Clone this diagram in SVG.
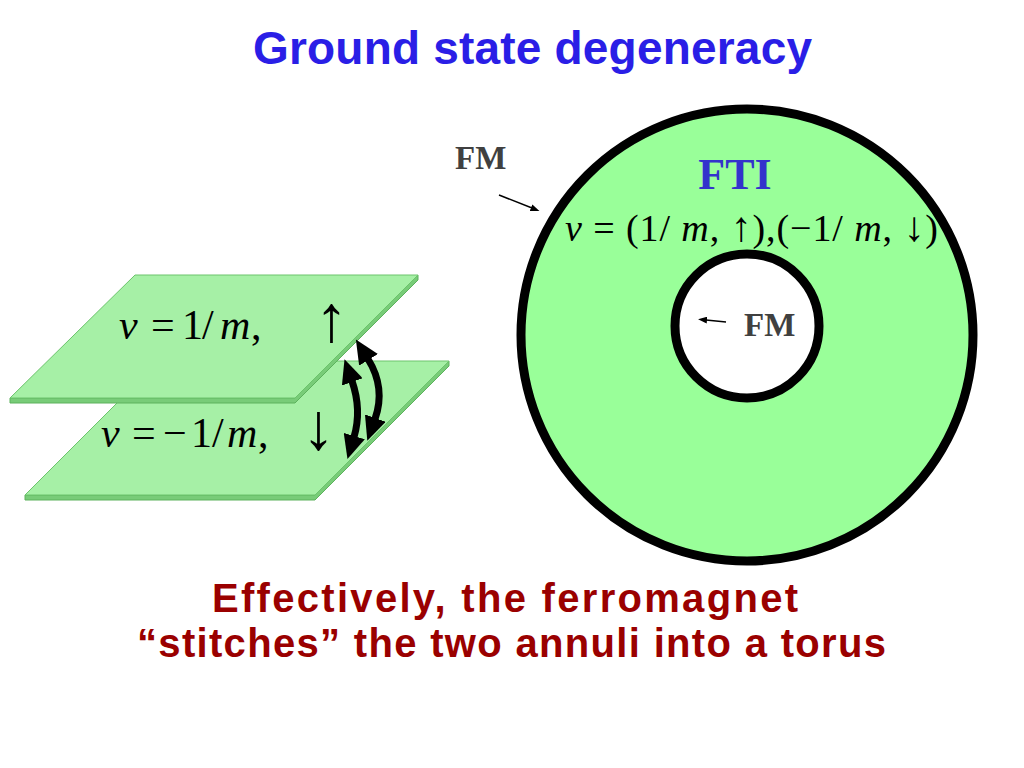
<svg xmlns="http://www.w3.org/2000/svg" width="1024" height="768" viewBox="0 0 1024 768">
  <style>
    .title { font-family: "Liberation Sans", "DejaVu Sans", sans-serif; font-weight: bold; fill: #2a1ee6; }
    .caption { font-family: "Liberation Sans", "DejaVu Sans", sans-serif; font-weight: bold; fill: #9a0000; }
    .math { font-family: "Liberation Serif", "DejaVu Serif", serif; fill: #000; }
    .it { font-style: italic; }
    .arr { font-size: 66px; }
    .arr2 { font-size: 42px; }
    .fm { font-family: "Liberation Serif", "DejaVu Serif", serif; font-weight: bold; fill: #404040; font-size: 33px; }
    .fti { font-family: "Liberation Serif", "DejaVu Serif", serif; font-weight: bold; fill: #3333cc; font-size: 44px; }
    .face { fill: #a6f0a6; stroke: #6cc46c; stroke-width: 1; }
    .side { fill: #78cc78; stroke: #5cb25c; stroke-width: 1; }
    .thick { fill: none; stroke: #000; stroke-width: 7; marker-start: url(#bighead); marker-end: url(#bighead); }
    .thin { fill: none; stroke: #000; stroke-width: 1.5; marker-end: url(#smallhead); }
  </style>
  <defs>
    <marker id="bighead" markerUnits="userSpaceOnUse" markerWidth="24" markerHeight="22" viewBox="0 0 24 22" refX="1" refY="11" orient="auto-start-reverse">
      <path d="M0,0 L24,11 L0,22 z" fill="#000"/>
    </marker>
    <marker id="smallhead" markerUnits="userSpaceOnUse" markerWidth="9" markerHeight="7" viewBox="0 0 9 7" refX="1" refY="3.5" orient="auto">
      <path d="M0,0 L9,3.5 L0,7 z" fill="#000"/>
    </marker>
  </defs>

  <rect width="1024" height="768" fill="#ffffff"/>

  <g id="title">
    <text class="title" x="253" y="64" font-size="46" textLength="559" lengthAdjust="spacing">Ground state degeneracy</text>
  </g>

  <g id="slab-bottom">
    <polygon class="side" points="25,495 315,495 449,361 449,366 315,500 25,500"/>
    <polygon class="face" points="159,361 449,361 315,495 25,495"/>
    <text class="math" font-size="42" y="447"><tspan class="it" x="101">ν</tspan><tspan x="132">=</tspan><tspan x="163">−</tspan><tspan x="191">1</tspan><tspan x="212">/</tspan><tspan class="it" x="227">m</tspan><tspan x="258">,</tspan><tspan class="arr" x="302" y="449">↓</tspan></text>
  </g>

  <g id="slab-top">
    <polygon class="side" points="10,398 295,398 418,275 418,280 295,403 10,403"/>
    <polygon class="face" points="135,275 418,275 295,398 10,398"/>
    <text class="math" font-size="42" y="339"><tspan class="it" x="119">ν</tspan><tspan x="151">=</tspan><tspan x="182">1</tspan><tspan x="202">/</tspan><tspan class="it" x="220">m</tspan><tspan x="251">,</tspan><tspan class="arr" x="315" y="341">↑</tspan></text>
  </g>

  <g id="annulus">
    <circle cx="747" cy="335" r="226" fill="#99ff99" stroke="#000" stroke-width="9"/>
    <circle cx="747" cy="326" r="72" fill="#ffffff" stroke="#000" stroke-width="9"/>
    <text class="fti" x="735" y="189" text-anchor="middle">FTI</text>
    <text class="math" x="565" y="241" font-size="38" textLength="373" lengthAdjust="spacing"><tspan class="it">ν</tspan> = (1/ <tspan class="it">m</tspan>, <tspan class="arr2">↑</tspan>),(−1/ <tspan class="it">m</tspan>, <tspan class="arr2">↓</tspan>)</text>
  </g>

  <g id="fm-outer">
    <text class="fm" x="455" y="169">FM</text>
  </g>
  <g id="fm-inner">
    <text class="fm" x="744" y="336">FM</text>
  </g>

  <g id="connectors">
    <path class="thick" d="M352,381 Q362,410 354,437"/>
    <path class="thick" d="M368,359 Q386,388 375,419"/>
    <line class="thin" x1="499" y1="195" x2="532" y2="208"/>
    <line class="thin" x1="726" y1="322" x2="706" y2="320"/>
  </g>

  <g id="caption">
    <text class="caption" x="212" y="612" font-size="40" textLength="586" lengthAdjust="spacing">Effectively, the ferromagnet</text>
    <text class="caption" x="137" y="657" font-size="40" textLength="749" lengthAdjust="spacing">“stitches” the two annuli into a torus</text>
  </g>
</svg>
